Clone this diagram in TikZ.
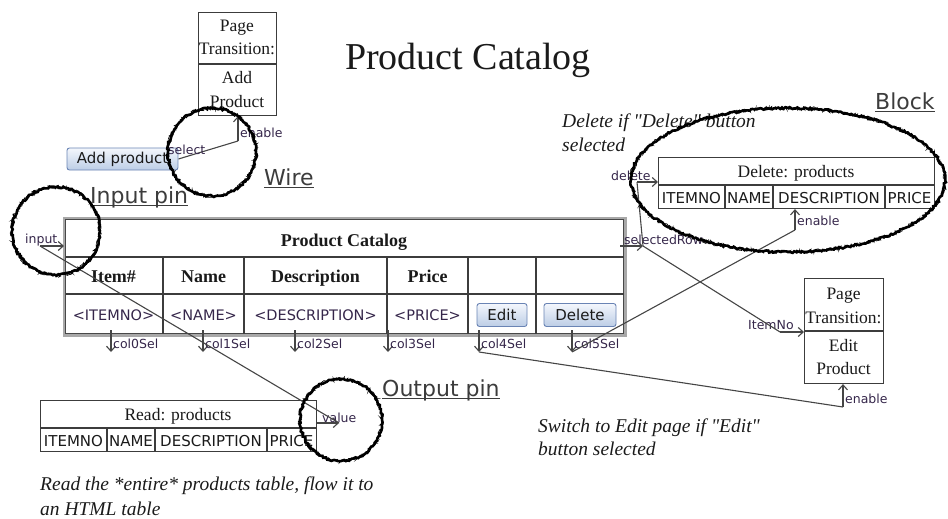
\documentclass[tikz,border=0pt]{standalone}
\usepackage{fontspec}
\setmainfont{Liberation Serif}
\newfontfamily\uisans{DejaVu Sans}
\usetikzlibrary{arrows.meta,decorations.pathmorphing,calc}

\definecolor{ink}{HTML}{1A1A1A}
\definecolor{wirec}{HTML}{454545}
\definecolor{pinc}{HTML}{35264A}
\definecolor{capc}{HTML}{3C3C3C}
\definecolor{btnedge}{HTML}{6A84B4}
\definecolor{btntop}{HTML}{F4F7FC}
\definecolor{btnbot}{HTML}{BCCDE6}
\definecolor{framec}{HTML}{A8A8A8}

\newcommand\fsz[1]{\fontsize{#1}{#1}\selectfont}

\tikzset{
  wire/.style={draw=wirec, line width=1.1pt},
  pinarrow/.style={wire, -{Straight Barb[length=5pt,width=9pt]}},
  pinlabel/.style={font=\uisans\fsz{12.5}, text=pinc, inner sep=0pt, anchor=base west},
  boxline/.style={draw=ink!85, line width=1.1pt},
  sertext/.style={font=\fsz{17.5}, text=ink, inner sep=0pt, anchor=base},
  headtext/.style={font=\bfseries\fsz{18}, text=ink, inner sep=0pt, anchor=base},
  celltext/.style={font=\uisans\fsz{15}, text=pinc, inner sep=0pt, anchor=base},
  btn/.style={draw=btnedge, line width=0.9pt, rounded corners=2.5pt, top color=btntop,
              bottom color=btnbot, font=\uisans\fsz{15}, text=ink, inner sep=0pt},
  note/.style={font=\itshape\fsz{19.5}, text=ink, inner sep=0pt, anchor=base west},
  caption/.style={font=\uisans\fsz{22}, text=capc, inner sep=0pt, anchor=base west},
  sketch/.style={draw=black, line width=2.6pt, decorate,
                 decoration={random steps, segment length=2pt, amplitude=1pt}},
  sketchfine/.style={draw=black, line width=0.7pt, decorate,
                 decoration={random steps, segment length=1.2pt, amplitude=2pt}},
}

\begin{document}
\begin{tikzpicture}[x=1pt,y=-1pt]
\useasboundingbox (0,0) rectangle (948,519);
\clip (0,0) rectangle (948,519);

% heading remnants and page title
\node[font=\fsz{54}, anchor=base west, inner sep=0pt] (toptext) at (493,-14) {pp};
\node[font=\fsz{38}, anchor=base, inner sep=0pt, text=ink] (pagetitle) at (468,70) {Product Catalog};

% ---------- page transition: Add Product ----------
\node[boxline, minimum width=78pt, minimum height=103pt, anchor=north west, inner sep=0pt] (addpt) at (198,12) {};
\draw[boxline] (addpt.west |- 0,64) -- (addpt.east |- 0,64);
\node[sertext] (addpt1) at (237,32) {Page};
\node[sertext] (addpt2) at (237,55) {Transition:};
\node[sertext] (addpt3) at (237,84) {Add};
\node[sertext] (addpt4) at (237,107) {Product};

% Add product button and its wire
\node[btn, minimum width=111pt, minimum height=22pt] (addbtn) at (122.5,159) {Add product};
\coordinate (addEn) at (238,141);
\draw[wire] (addbtn.east) -- (addEn);
\draw[pinarrow] (addEn) -- (addEn |- addpt.south);
\node[pinlabel] (lblselect) at (168,154) {select};
\node[pinlabel] (lbladden) at (240,137) {enable};

% ---------- Product Catalog table ----------
\node[minimum width=561pt, minimum height=117pt, anchor=north west, inner sep=0pt] (catalog) at (64,218) {};
\draw[framec, line width=3pt] (catalog.north west) rectangle (catalog.south east);
\draw[ink!80, line width=0.9pt] ([shift={(1.5pt,-1.5pt)}]catalog.north west) rectangle ([shift={(-1.5pt,1.5pt)}]catalog.south east);
\draw[boxline] (65.5,257) -- (623.5,257);
\draw[boxline] (65.5,294) -- (623.5,294);
\foreach \cx in {163,244,387,468,536} \draw[boxline] (\cx,257) -- (\cx,333.5);

\node[headtext] (cattitle) at (344,246) {Product Catalog};
\node[headtext] (hItem) at (113.5,282) {Item\#};
\node[headtext] (hName) at (203.5,282) {Name};
\node[headtext] (hDesc) at (315.5,282) {Description};
\node[headtext] (hPrice) at (427.5,282) {Price};

\node[celltext, font=\uisans\fsz{14.5}] (dItem) at (113.5,320) {<ITEMNO>};
\node[celltext, font=\uisans\fsz{14.5}] (dName) at (203.5,320) {<NAME>};
\node[celltext, font=\uisans\fsz{14.5}] (dDesc) at (315.5,320) {<DESCRIPTION>};
\node[celltext, font=\uisans\fsz{14.5}] (dPrice) at (427.5,320) {<PRICE>};
\node[btn, minimum width=50pt, minimum height=23pt] (editbtn) at (502,315) {Edit};
\node[btn, minimum width=72pt, minimum height=23pt] (delbtn) at (580,315) {Delete};

% input pin
\coordinate (inTail) at (40,246);
\draw[pinarrow] (inTail) -- (inTail -| catalog.west);
\node[pinlabel] (lblinput) at (25,243) {input};

% column selection pins
\foreach \i/\cx in {0/111,1/203,2/295,3/388,4/479,5/572}{
  \coordinate (cs\i) at (\cx,352);
  \draw[pinarrow] (cs\i |- 0,330) -- (cs\i);
  \node[pinlabel] (lblcs\i) at (\cx+2,348) {col\i Sel};
}

% selectedRow pin
\coordinate (selTip) at (643,246);
\draw[pinarrow] (620,246) -- (selTip);
\node[pinlabel] (lblsel) at (624,244) {selectedRow};

% ---------- Delete: products ----------
\node[boxline, minimum width=276pt, minimum height=51pt, anchor=north west, inner sep=0pt] (delblk) at (658,157) {};
\draw[boxline] (delblk.west |- 0,185) -- (delblk.east |- 0,185);
\foreach \cx in {725,773,885} \draw[boxline] (\cx,185) -- (\cx,208);
\node[sertext] (deltitle) at (796,177) {Delete: products};
\node[celltext, text=ink] (delc1) at (691.5,203) {ITEMNO};
\node[celltext, text=ink] (delc2) at (749,203) {NAME};
\node[celltext, text=ink] (delc3) at (829,203) {DESCRIPTION};
\node[celltext, text=ink] (delc4) at (909.5,203) {PRICE};

\coordinate (delTail) at (637,182);
\draw[pinarrow] (delTail) -- (delTail -| delblk.west);
\node[pinlabel] (lbldel) at (611,180) {delete};
\draw[wire] (selTip) -- (delTail);

\coordinate (delEn) at (795,230);
\draw[pinarrow] (delEn) -- (delEn |- delblk.south);
\node[pinlabel] (lbldelen) at (797,225) {enable};
\draw[wire] (cs5) -- (delEn);

% ---------- page transition: Edit Product ----------
\node[boxline, minimum width=79pt, minimum height=105pt, anchor=north west, inner sep=0pt] (editpt) at (804,278) {};
\draw[boxline] (editpt.west |- 0,331) -- (editpt.east |- 0,331);
\node[sertext] (editpt1) at (843.5,299) {Page};
\node[sertext] (editpt2) at (843.5,323) {Transition:};
\node[sertext] (editpt3) at (843.5,351) {Edit};
\node[sertext] (editpt4) at (843.5,374) {Product};

\coordinate (itemTail) at (780,332);
\draw[pinarrow] (itemTail) -- (itemTail -| editpt.west);
\node[pinlabel] (lblitem) at (748,329) {ItemNo};
\draw[wire] (selTip) -- (itemTail);

\coordinate (editEn) at (843,407);
\draw[pinarrow] (editEn) -- (editEn |- editpt.south);
\node[pinlabel] (lbleditEn) at (845,403) {enable};
\draw[wire] (cs4) -- (editEn);

% ---------- Read: products ----------
\node[boxline, minimum width=276pt, minimum height=51pt, anchor=north west, inner sep=0pt] (readblk) at (40,400) {};
\draw[boxline] (readblk.west |- 0,428) -- (readblk.east |- 0,428);
\foreach \cx in {107,155,267} \draw[boxline] (\cx,428) -- (\cx,451);
\node[sertext] (readtitle) at (178,420) {Read: products};
\node[celltext, text=ink] (readc1) at (73.5,446) {ITEMNO};
\node[celltext, text=ink] (readc2) at (131,446) {NAME};
\node[celltext, text=ink] (readc3) at (211,446) {DESCRIPTION};
\node[celltext, text=ink] (readc4) at (291.5,446) {PRICE};

\coordinate (valTip) at (339,423);
\draw[pinarrow] (readblk.east |- valTip) -- (valTip);
\node[pinlabel] (lblval) at (322,422) {value};
\draw[wire] (valTip) -- (inTail);

% ---------- notes ----------
\node[note] (noteDel1) at (562,127) {Delete if \textquotedbl Delete\textquotedbl{} button};
\node[note] (noteDel2) at (562,151) {selected};
\node[note] (noteEdit1) at (538,432) {Switch to Edit page if \textquotedbl Edit\textquotedbl};
\node[note] (noteEdit2) at (538,455) {button selected};
\node[note] (noteRead1) at (40,490) {Read the *entire* products table, flow it to};
\node[note] (noteRead2) at (40,515) {an HTML table};

% ---------- annotation captions ----------
\foreach \nm/\px/\py/\txt in {capWire/264/185/Wire, capIn/90/203/Input pin, capOut/382/396/Output pin, capBlock/875/109/Block}{
  \node[caption] (\nm) at (\px,\py) {\txt};
  \draw[capc, line width=1.2pt] ([yshift=-2.5pt]\nm.base west) -- ([yshift=-2.5pt]\nm.base east);
}

% ---------- hand-drawn highlight rings ----------
\draw[sketch] (212,152) circle[radius=44];
\draw[sketchfine] (212,152) circle[radius=44];
\draw[sketch] (56,231) circle[radius=44];
\draw[sketchfine] (56,231) circle[radius=44];
\draw[sketch] (341,420) circle[radius=41];
\draw[sketchfine] (341,420) circle[radius=41];
\draw[sketch] (788,180) ellipse[x radius=157, y radius=72];
\draw[sketchfine] (788,180) ellipse[x radius=157, y radius=72];
\end{tikzpicture}
\end{document}
